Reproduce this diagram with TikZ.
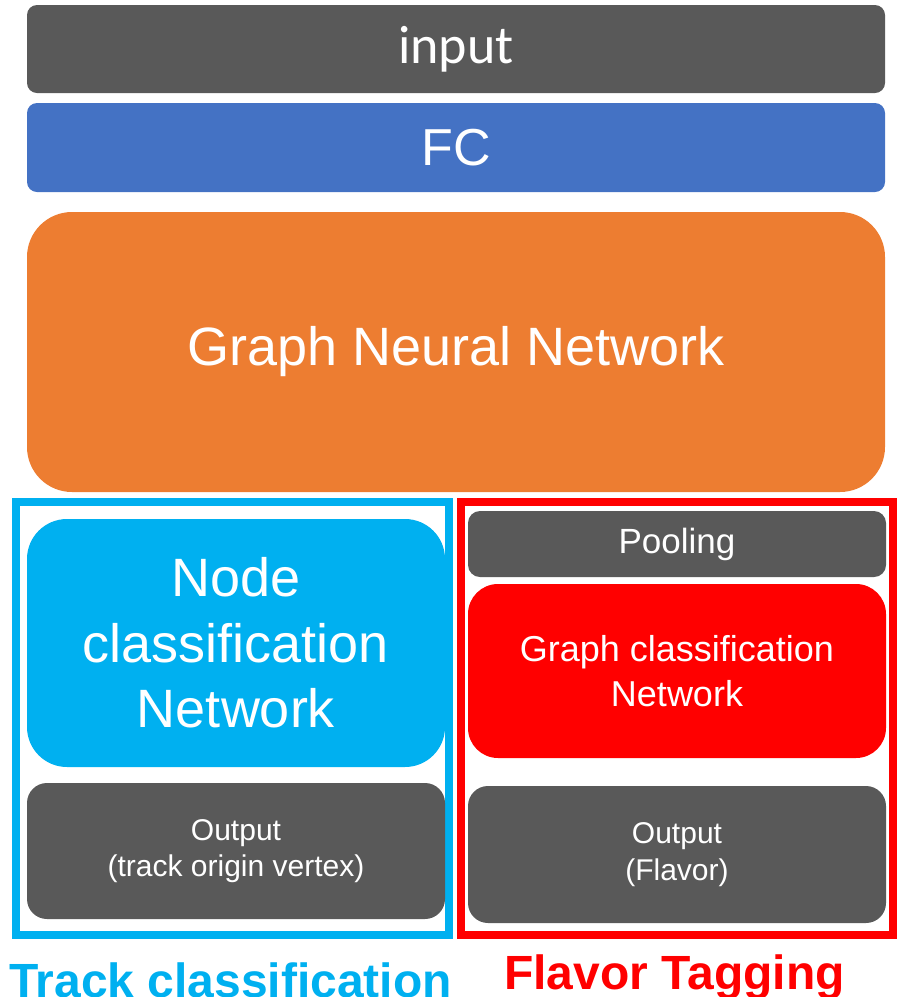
\documentclass[tikz,border=0pt]{standalone}
\usepackage{fontspec}
\setmainfont{Liberation Sans}
\newfontfamily\calibrifont{Carlito}
\definecolor{dgray}{HTML}{595959}
\definecolor{fcblue}{HTML}{4472C4}
\definecolor{gnnorange}{HTML}{ED7D31}
\definecolor{cyanb}{HTML}{00B0F0}
\definecolor{redb}{HTML}{FF0000}
\tikzset{
  box/.style={rectangle, inner sep=0pt, outer sep=0pt, text=white, align=center},
  frame/.style={rectangle, draw, line width=8pt, inner sep=0pt, outer sep=0pt},
  lbl/.style={inner sep=0pt, anchor=base, font=\bfseries\fontsize{48}{56}\selectfont}
}
\begin{document}
\begin{tikzpicture}[x=1pt, y=-1pt]
\useasboundingbox (0,0) rectangle (897,997);
% top stack
\node[box, fill=dgray, rounded corners=10pt, minimum width=858pt, minimum height=88pt,
  font=\calibrifont\fontsize{54}{60}\selectfont] (input) at (456,49) {input};
\node[box, fill=fcblue, rounded corners=10pt, minimum width=858pt, minimum height=89pt,
  font=\fontsize{52}{60}\selectfont] (fc) at (456,147.5) {FC};
\node[box, fill=gnnorange, rounded corners=45pt, minimum width=858pt, minimum height=280pt,
  font=\fontsize{54}{65}\selectfont] (gnn) at (456,352) {Graph Neural Network};
% frames
\node[frame, draw=cyanb, minimum width=433pt, minimum height=433pt] (trackframe) at (232.5,718.5) {};
\node[frame, draw=redb, minimum width=432pt, minimum height=433pt] (flavframe) at (677,718.5) {};
% left column
\node[box, fill=cyanb, rounded corners=40pt, minimum width=418pt, minimum height=248pt,
  font=\fontsize{54}{65.5}\selectfont] (nodecls) at (236,643) {Node\\classification\\Network};
\node[box, fill=dgray, rounded corners=20pt, minimum width=418pt, minimum height=136pt,
  font=\fontsize{30}{36}\selectfont] (outl) at (236,851) {Output\\(track origin vertex)};
% right column
\node[box, fill=dgray, rounded corners=12pt, minimum width=418pt, minimum height=66pt,
  font=\fontsize{35}{42}\selectfont] (pool) at (677,544) {Pooling};
\node[box, fill=redb, rounded corners=30pt, minimum width=418pt, minimum height=174pt,
  font=\fontsize{36}{45}\selectfont] (graphcls) at (677,671) {Graph classification\\Network};
\node[box, fill=dgray, rounded corners=20pt, minimum width=418pt, minimum height=137pt,
  font=\fontsize{30}{37}\selectfont] (outr) at (677,854.5) {Output\\(Flavor)};
% labels
\node[lbl, text=cyanb] (tracklbl) at (230.5,997) {Track classification};
\node[lbl, text=redb] (flavlbl) at (674.5,989) {Flavor Tagging};
\end{tikzpicture}
\end{document}
